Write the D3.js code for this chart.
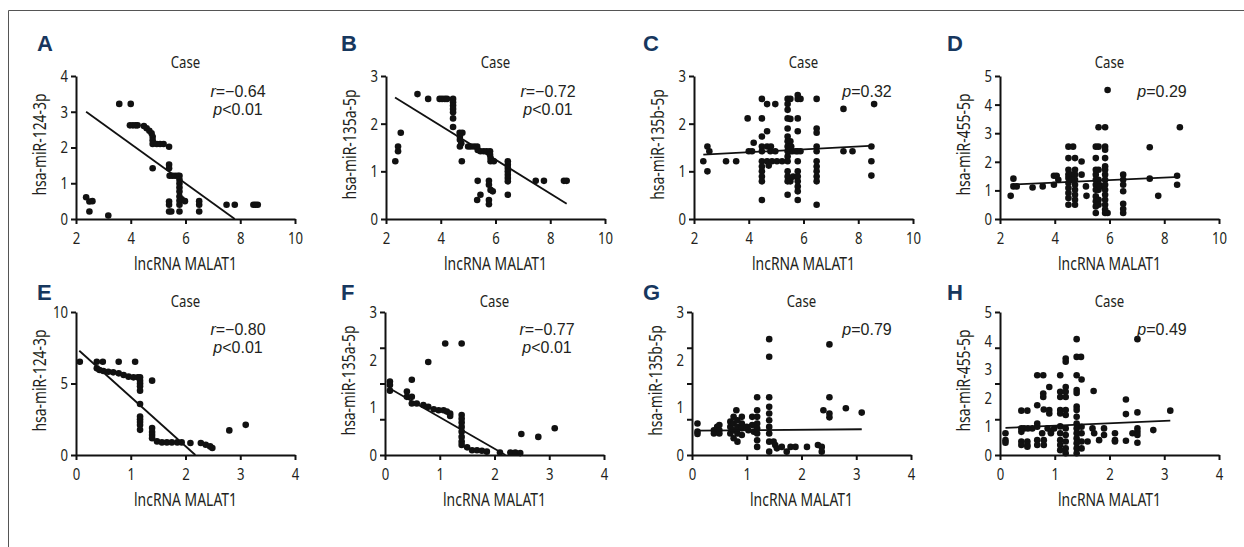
<!DOCTYPE html>
<html>
<head>
<meta charset="utf-8">
<script src="https://cdn.jsdelivr.net/npm/d3@7"></script>
<style>
  body { margin: 0; background: #fff; }
  svg text { font-family: "Noto Sans", "DejaVu Sans", sans-serif; fill: #231f20; }
</style>
</head>
<body>
<div id="vis"></div>
<script>
// ---- data ----
const panelLetters = ["A", "B", "C", "D", "E", "F", "G", "H"];
const yTitles = ["hsa-miR-124-3p", "hsa-miR-135a-5p", "hsa-miR-135b-5p", "hsa-miR-455-5p",
                 "hsa-miR-124-3p", "hsa-miR-135a-5p", "hsa-miR-135b-5p", "hsa-miR-455-5p"];
const xTitle = "lncRNA MALAT1";
const panelTitle = "Case";

const xDomainTop = [2, 10], xTicksTop = [2, 4, 6, 8, 10];
const xDomainBottom = [0, 4], xTicksBottom = [0, 1, 2, 3, 4];
const yMax = [4, 3, 3, 5, 10, 3, 3, 5];
const yTickMarks = [[0, 1, 2, 3, 4], [0, 1, 2, 3], [0, 1, 2, 3], [0, 1, 2, 3, 4, 5],
                    [0, 5, 10], [0, 0.75, 1.5, 2.25, 3], [0, 0.75, 1.5, 2.25, 3], [0, 1.25, 2.5, 3.75, 5]];
const yTickLabels = [[0, 1, 2, 3, 4], [0, 1, 2, 3], [0, 1, 2, 3], [0, 1, 2, 3, 4, 5],
                     [0, 5, 10], [0, 1, 2, 3], [0, 1, 2, 3], [0, 1, 2, 3, 4, 5]];

// statistics text: [italic letter, rest]
const stats = [
  [["r", "=\u22120.64"], ["p", "<0.01"]],
  [["r", "=\u22120.72"], ["p", "<0.01"]],
  [["p", "=0.32"]],
  [["p", "=0.29"]],
  [["r", "=\u22120.80"], ["p", "<0.01"]],
  [["r", "=\u22120.77"], ["p", "<0.01"]],
  [["p", "=0.79"]],
  [["p", "=0.49"]]
];

const ptsA = [[2.37,0.61],[2.49,0.49],[2.6,0.5],[2.49,0.21],[3.18,0.1],
  [3.58,3.22],[4.0,3.22],[3.97,2.62],[4.08,2.62],[4.18,2.62],[4.25,2.62],
  [4.48,2.6],[4.58,2.54],[4.68,2.47],[4.76,2.4],[4.8,2.3],[4.8,2.2],[4.8,2.1],
  [4.95,2.1],[5.07,2.1],[5.2,2.1],[5.4,2.02],[4.8,1.42],[5.4,1.52],[5.4,1.42],
  [5.42,1.21],[5.52,1.21],[5.62,1.21],[5.72,1.21],[5.78,1.21],
  [5.78,1.1],[5.78,0.99],[5.78,0.88],[5.78,0.77],[5.78,0.63],[5.78,0.51],[5.78,0.4],[5.78,0.21],
  [5.86,0.55],[5.98,0.5],[5.4,0.49],[5.4,0.4],[5.4,0.21],[5.48,0.21],
  [6.5,0.5],[6.5,0.4],[6.5,0.21],[7.5,0.4],[7.8,0.4],[8.48,0.4],[8.56,0.4],[8.64,0.4]];
const ptsB = [[2.34,1.21],[2.44,1.42],[2.44,1.52],[2.54,1.81],
  [3.15,2.62],[3.54,2.52],[3.96,2.52],[4.05,2.52],[4.15,2.52],[4.23,2.52],
  [4.45,2.52],[4.45,2.45],[4.45,2.38],[4.45,2.31],[4.45,2.24],[4.45,2.11],[4.45,1.93],
  [4.69,1.81],[4.79,1.81],[4.7,1.73],[4.7,1.66],[4.75,1.59],[4.7,1.52],[4.77,1.21],
  [5.0,1.52],[5.1,1.52],[5.22,1.52],[5.33,1.52],[5.35,1.45],
  [5.45,1.42],[5.57,1.42],[5.68,1.42],[5.8,1.42],[5.8,1.35],[5.82,1.28],[5.82,1.21],[5.94,1.21],
  [5.35,0.8],[5.33,0.4],[5.45,0.51],[5.76,0.8],[5.76,0.72],[5.82,0.61],[5.9,0.58],[5.76,0.4],[5.76,0.31],
  [6.45,1.21],[6.45,1.14],[6.45,1.07],[6.45,1.0],[6.45,0.93],[6.45,0.86],[6.45,0.79],[6.45,0.51],
  [7.47,0.8],[7.77,0.8],[8.5,0.8],[8.6,0.8]];
const ptsC = [[2.34,1.21],[2.49,1.52],[2.56,1.42],[2.49,1.0],[3.17,1.21],[3.54,1.21],
  [3.96,2.11],[4.0,1.42],[4.12,1.42],[4.18,1.6],
  [4.48,2.52],[4.48,2.11],[4.48,1.73],[4.67,1.84],
  [4.48,1.52],[4.48,1.42],[4.48,1.21],[4.48,1.1],[4.48,1.0],[4.48,0.89],[4.48,0.79],[4.48,0.4],
  [4.67,2.41],[4.97,2.41],[4.67,1.52],[4.81,1.52],[4.79,1.42],[4.97,1.42],
  [4.67,1.21],[4.85,1.21],[5.03,1.21],[5.22,1.21],[4.73,1.12],
  [5.42,2.52],[5.42,2.41],[5.42,2.29],[5.42,2.11],[5.42,1.9],[5.42,1.73],[5.42,1.63],[5.42,1.52],
  [5.42,1.42],[5.42,1.31],[5.42,1.21],[5.42,1.0],[5.42,0.89],[5.42,0.79],[5.42,0.51],
  [5.52,2.52],[5.52,2.1],[5.52,1.63],[5.52,1.5],[5.52,1.42],[5.52,0.79],
  [5.6,1.42],[5.72,1.42],[5.55,1.52],[5.62,0.89],
  [5.79,2.6],[5.79,2.52],[5.79,2.11],[5.79,1.84],[5.79,1.42],[5.79,1.21],[5.79,1.0],[5.79,0.89],
  [5.79,0.79],[5.79,0.68],[5.79,0.4],[5.89,2.52],[5.89,1.42],[5.79,0.58],
  [6.48,2.52],[6.48,1.9],[6.48,1.81],[6.48,1.52],[6.48,1.42],[6.48,1.21],[6.48,1.1],[6.48,1.0],
  [6.48,0.89],[6.48,0.79],[6.48,0.3],
  [7.46,2.31],[7.46,1.42],[7.79,1.42],[8.58,2.41],[8.48,1.52],[8.48,1.21],[8.48,0.91]];
const ptsD = [[2.39,0.81],[2.49,1.41],[2.49,1.14],[2.61,1.14],[3.19,1.1],[3.56,1.14],
  [3.97,1.51],[4.07,1.51],[3.97,1.2],[4.13,1.37],
  [4.5,2.53],[4.5,2.13],[4.5,1.72],[4.5,1.55],[4.5,1.43],[4.5,1.26],[4.5,1.08],[4.5,0.91],[4.5,0.73],[4.5,0.5],
  [4.67,2.53],[4.74,2.13],
  [4.74,1.72],[4.74,1.55],[4.74,1.37],[4.74,1.2],[4.74,1.02],[4.74,0.85],[4.74,0.67],[4.74,0.5],
  [4.61,1.55],[4.61,1.37],[4.98,2.01],[4.98,1.55],[5.14,1.14],[5.16,0.81],
  [5.5,2.53],[5.5,2.13],[5.5,1.72],[5.5,1.55],[5.5,1.37],[5.5,1.2],[5.5,1.02],[5.5,0.79],[5.5,0.62],[5.5,0.44],[5.5,0.21],
  [5.6,2.53],[5.6,1.72],[5.6,1.37],[5.6,1.02],[5.6,0.67],[5.6,0.5],[5.62,1.2],[5.66,1.14],
  [5.6,3.21],[5.84,3.21],[5.93,4.51],
  [5.84,2.53],[5.84,2.42],[5.84,2.13],[5.84,1.84],[5.84,1.72],[5.84,1.55],[5.84,1.37],[5.84,1.2],
  [5.84,1.02],[5.84,0.85],[5.84,0.67],[5.84,0.5],[5.84,0.33],[5.84,0.21],[5.93,0.21],
  [6.5,1.55],[6.5,1.37],[6.5,1.2],[6.5,0.97],[6.5,0.53],[6.5,0.35],[6.5,0.21],
  [7.47,2.51],[7.47,1.41],[7.78,0.81],[8.47,1.51],[8.47,1.2],[8.57,3.21]];
const ptsE = [[0.07,6.52],[0.38,6.52],[0.49,6.52],[0.38,6.06],[0.43,5.94],[0.5,5.87],[0.59,5.82],
  [0.68,5.78],[0.78,5.71],[0.87,5.59],[0.96,5.48],[1.05,5.43],[1.13,5.43],[0.78,6.52],[1.08,6.52],
  [1.17,5.43],[1.17,5.2],[1.17,5.0],[1.17,4.8],[1.17,4.5],[1.39,5.2],[1.17,3.57],
  [1.17,2.69],[1.17,2.5],[1.17,2.3],[1.17,2.1],[1.17,1.76],
  [1.39,1.88],[1.39,1.6],[1.39,1.4],[1.39,1.18],
  [1.48,0.95],[1.57,0.88],[1.66,0.88],[1.75,0.88],[1.85,0.88],[1.93,0.88],[2.09,0.84],
  [2.28,0.84],[2.37,0.72],[2.45,0.6],[2.49,0.49],[2.8,1.72],[3.1,2.11]];
const ptsF = [[0.09,1.54],[0.09,1.47],[0.09,1.35],[0.4,1.33],[0.4,1.22],[0.49,1.58],[0.49,1.22],[0.49,1.08],
  [0.58,1.08],[0.7,1.05],[0.79,1.01],[0.89,0.96],[0.98,0.94],[1.07,0.94],[1.13,0.91],[1.19,0.87],[1.19,0.82],
  [0.79,1.95],[1.1,2.34],[1.4,2.34],
  [1.4,0.84],[1.4,0.76],[1.4,0.68],[1.4,0.59],[1.4,0.49],[1.4,0.38],[1.4,0.28],[1.4,0.21],
  [1.5,0.16],[1.59,0.1],[1.68,0.1],[1.77,0.09],[1.86,0.07],
  [2.1,0.05],[2.29,0.05],[2.38,0.05],[2.47,0.04],[2.49,0.44],[2.8,0.38],[3.1,0.56]];
const ptsG = [[0.1,0.66],[0.1,0.49],[0.1,0.44],[0.4,0.52],[0.4,0.45],[0.46,0.59],[0.5,0.63],[0.5,0.52],[0.5,0.45],
  [0.7,0.7],[0.7,0.59],[0.7,0.45],[0.76,0.8],[0.76,0.66],[0.76,0.52],[0.76,0.35],[0.81,0.94],
  [0.83,0.73],[0.83,0.59],[0.83,0.45],[0.83,0.28],[0.91,0.8],[0.91,0.66],[0.91,0.56],[0.91,0.42],
  [1.0,0.59],[1.03,0.52],[1.1,0.8],[1.1,0.63],[1.13,0.49],
  [1.19,1.21],[1.19,0.94],[1.19,0.8],[1.19,0.66],[1.19,0.56],[1.19,0.45],[1.19,0.31],[1.19,0.17],
  [1.41,2.43],[1.41,2.06],[1.41,1.21],[1.41,1.01],[1.41,0.87],[1.41,0.73],[1.41,0.59],[1.41,0.45],
  [1.41,0.28],[1.41,0.07],[1.49,0.28],[1.52,0.21],[1.55,0.14],[1.64,0.17],[1.73,0.07],[1.8,0.17],
  [1.89,0.17],[2.1,0.17],[2.3,0.21],[2.37,0.17],[2.37,0.07],
  [2.51,2.32],[2.51,1.21],[2.4,0.94],[2.51,0.87],[2.51,0.79],[2.81,0.98],[3.1,0.89]];
const ptsH = [[0.1,0.76],[0.1,0.52],[0.1,0.43],[0.39,1.55],[0.5,1.55],
  [0.39,0.93],[0.44,0.93],[0.51,0.93],[0.59,0.93],[0.39,0.81],[0.39,0.47],[0.39,0.35],[0.5,0.47],[0.5,0.35],[0.5,0.29],
  [0.68,2.79],[0.79,2.79],[0.68,1.74],[0.68,1.1],[0.68,0.99],[0.68,0.52],[0.68,0.35],
  [0.77,0.76],[0.8,0.52],[0.8,0.35],[0.9,2.38],[0.79,2.15],[0.79,2.03],[0.8,1.59],[0.9,1.57],[0.9,1.45],
  [0.87,0.93],[0.93,0.81],[0.93,0.76],[0.99,0.93],
  [1.1,2.79],[1.1,2.21],[1.1,2.03],[1.1,1.57],[1.1,1.45],[1.1,1.0],[1.1,0.76],[1.1,0.52],[1.1,0.35],[1.1,0.17],
  [1.2,3.37],[1.2,3.26],[1.2,2.38],[1.2,2.21],[1.2,2.03],[1.2,1.57],[1.2,1.4],
  [1.2,0.93],[1.2,0.7],[1.2,0.47],[1.2,0.23],[1.2,0.06],
  [1.4,4.05],[1.4,3.43],[1.48,3.43],[1.4,2.79],[1.4,2.27],[1.4,2.17],
  [1.4,1.69],[1.4,1.57],[1.4,1.34],[1.4,1.1],[1.4,0.93],[1.4,0.76],[1.4,0.58],[1.4,0.41],[1.4,0.23],[1.4,0.06],
  [1.49,2.64],[1.49,0.99],[1.49,0.76],[1.49,0.47],[1.49,0.23],[1.6,0.47],[1.71,2.24],[1.69,0.93],[1.72,0.76],
  [1.81,0.52],[1.9,0.93],[1.9,0.7],[2.1,0.76],[2.1,0.52],[2.1,0.47],
  [2.3,1.94],[2.3,1.43],[2.3,0.5],[2.51,4.05],[2.51,1.49],[2.42,0.76],[2.51,0.93],[2.51,0.81],[2.51,0.7],
  [2.51,0.43],[2.8,0.87],[3.11,1.55]];
const allPts = [ptsA, ptsB, ptsC, ptsD, ptsE, ptsF, ptsG, ptsH];

// regression lines: [x1, y1, x2, y2]
const fitLines = [[2.37,3.0,7.8,0],[2.33,2.55,8.6,0.32],[2.34,1.35,8.58,1.54],[2.39,1.2,8.57,1.47],
                  [0.06,7.29,2.18,0],[0.08,1.4,2.2,0],[0.1,0.51,3.1,0.54],[0.1,0.95,3.11,1.2]];

// ---- layout ----
const W = 1244, H = 547;
const plotW = 219, plotH = 143;
const colX = [[76, 386, 694, 1000], [76, 385, 692, 1000]];
const rowTop = [76, 312];
const letterX = [37, 341, 643, 947];
const letterY = [51, 300];
const titleY = [68, 307];
const statCx = [162, 162, 173, 162, 162, 162, 175, 162];

const svg = d3.select("#vis").append("svg")
  .attr("width", W)
  .attr("height", H);

// the figure uses a condensed face; squeeze a normal one to the same width
const probe = svg.append("text").attr("font-size", 18).text(xTitle);
const K = 103 / probe.node().getComputedTextLength();
probe.remove();

function condense(sel) {
  sel.each(function() {
    const t = d3.select(this);
    const tx = +t.attr("x") || 0, ty = +t.attr("y") || 0;
    const tr = t.attr("transform") || "";
    t.attr("x", null).attr("y", null)
      .attr("transform", `${tr} translate(${tx},${ty}) scale(${K},1)`);
  });
}

// frame lines (left and top)
svg.append("path")
  .attr("d", `M8.5,${H} L8.5,10.5 L${W},10.5`)
  .attr("fill", "none")
  .attr("stroke", "#555")
  .attr("stroke-width", 1);

allPts.forEach((pts, i) => {
  const row = i < 4 ? 0 : 1;
  const col = i % 4;
  const x0 = colX[row][col], y0 = rowTop[row];

  const x = d3.scaleLinear()
    .domain(row === 0 ? xDomainTop : xDomainBottom)
    .range([0, plotW]);
  const y = d3.scaleLinear()
    .domain([0, yMax[i]])
    .range([plotH, 0]);

  const g = svg.append("g").attr("transform", `translate(${x0},${y0})`);

  // points
  g.selectAll("circle")
    .data(pts)
    .join("circle")
    .attr("cx", d => x(d[0]))
    .attr("cy", d => y(d[1]))
    .attr("r", 3.3)
    .attr("fill", "#111");

  // regression line
  const f = fitLines[i];
  g.append("line")
    .attr("x1", x(f[0])).attr("y1", y(f[1]))
    .attr("x2", x(f[2])).attr("y2", y(f[3]))
    .attr("stroke", "#111")
    .attr("stroke-width", 1.8);

  // x axis
  const gx = g.append("g")
    .attr("transform", `translate(0,${plotH})`)
    .call(d3.axisBottom(x)
      .tickValues(row === 0 ? xTicksTop : xTicksBottom)
      .tickFormat(d3.format("d"))
      .tickSize(5).tickSizeOuter(0).tickPadding(8));

  // y axis: tick marks and labels separately (labels don't sit on ticks in some panels)
  const gy = g.append("g")
    .call(d3.axisLeft(y).tickValues(yTickMarks[i]).tickFormat("").tickSize(5).tickSizeOuter(0));
  const gyl = g.append("g")
    .call(d3.axisLeft(y).tickValues(yTickLabels[i]).tickFormat(d3.format("d"))
      .tickSize(0).tickPadding(8));
  gyl.select(".domain").remove();

  [gx, gy, gyl].forEach(a => {
    a.selectAll("path, line").attr("stroke", "#111").attr("stroke-width", 2);
    a.selectAll("text").attr("font-size", 17).attr("fill", "#231f20")
      .attr("font-family", null);
    condense(a.selectAll("text"));
  });

  // axis titles
  g.append("text")
    .attr("x", plotW / 2)
    .attr("y", plotH + 51)
    .attr("text-anchor", "middle")
    .attr("font-size", 18)
    .text(xTitle)
    .call(condense);

  g.append("text")
    .attr("transform", `translate(-30,${plotH / 2 - 3}) rotate(-90)`)
    .attr("text-anchor", "middle")
    .attr("font-size", 18)
    .text(yTitles[i])
    .call(condense);

  // panel title
  svg.append("text")
    .attr("x", x0 + plotW / 2)
    .attr("y", titleY[row])
    .attr("text-anchor", "middle")
    .attr("font-size", 17)
    .text(panelTitle)
    .call(condense);

  // panel letter
  svg.append("text")
    .attr("x", letterX[col])
    .attr("y", letterY[row])
    .style("font-family", "'Liberation Sans', Arial, sans-serif")
    .style("fill", "#17375e")
    .attr("font-weight", "bold")
    .attr("font-size", 22)
    .text(panelLetters[i]);

  // statistics
  stats[i].forEach((s, k) => {
    const t = g.append("text")
      .attr("x", statCx[i])
      .attr("y", (row === 0 ? 21 : 23) + k * 18)
      .attr("text-anchor", "middle")
      .style("font-family", "'Liberation Sans', Arial, sans-serif")
      .attr("font-size", 16);
    t.append("tspan").attr("font-style", "italic").text(s[0]);
    t.append("tspan").text(s[1]);
  });
});
</script>
</body>
</html>
